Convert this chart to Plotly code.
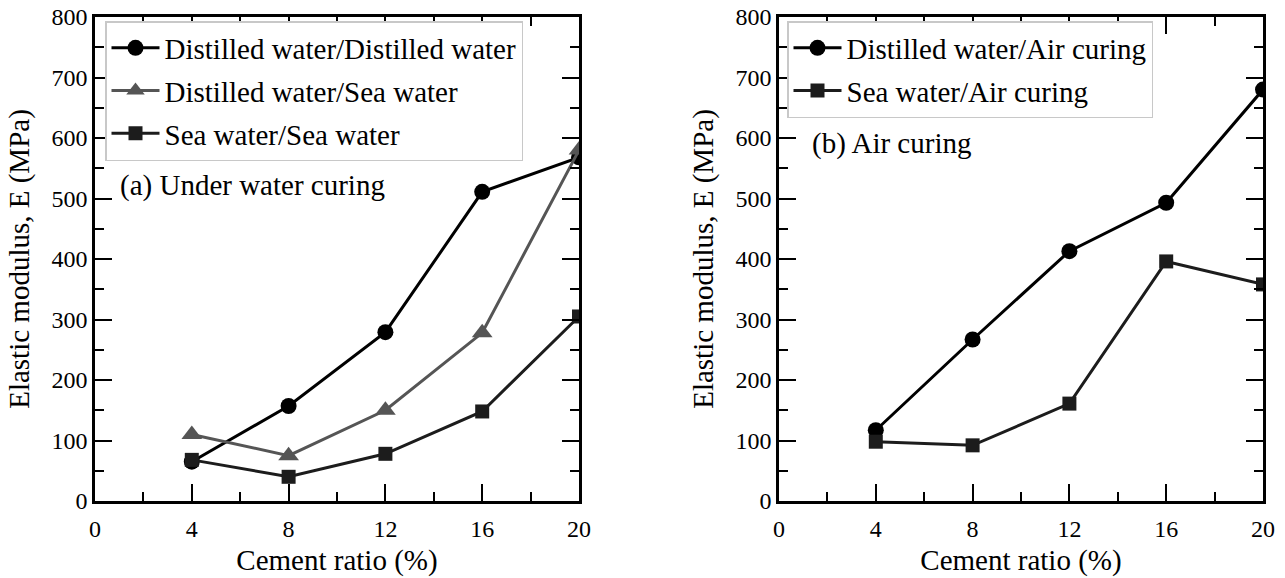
import plotly.graph_objects as go

cement = [4, 8, 12, 16, 20]

# (a) Under water curing
dw_dw = [65, 157, 279, 511, 568]
dw_sw = [110, 75, 150, 278, 580]
sw_sw = [68, 40, 78, 148, 305]

# (b) Air curing
dw_air = [117, 267, 413, 493, 680]
sw_air = [98, 92, 161, 396, 358]

x_ticks = [0, 4, 8, 12, 16, 20]
y_ticks = [0, 100, 200, 300, 400, 500, 600, 700, 800]

FONT = "Liberation Serif, Times New Roman, serif"
W, H = 1285, 578
TICK_SIZE = 24
TITLE_SIZE = 29
LEG_SIZE = 29

fig = go.Figure()

def add(x, y, name, color, symbol, size, xa, ya, legend, group):
    fig.add_trace(go.Scatter(
        x=x, y=y, name=name, mode="lines+markers",
        line=dict(color=color, width=3),
        marker=dict(symbol=symbol, size=size, color=color),
        xaxis=xa, yaxis=ya, legend=legend, legendgroup=group,
    ))

add(cement, dw_dw, "Distilled water/Distilled water", "#000000", "circle", 16, "x", "y", "legend", "a1")
add(cement, dw_sw, "Distilled water/Sea water", "#555555", "triangle-up", 18, "x", "y", "legend", "a2")
add(cement, sw_sw, "Sea water/Sea water", "#1c1c1c", "square", 14, "x", "y", "legend", "a3")
add(cement, dw_air, "Distilled water/Air curing", "#000000", "circle", 16, "x2", "y2", "legend2", "b1")
add(cement, sw_air, "Sea water/Air curing", "#1c1c1c", "square", 14, "x2", "y2", "legend2", "b2")

def xaxis(domain, anchor):
    return dict(domain=domain, anchor=anchor, range=[0, 20], tickvals=x_ticks, automargin=False,
                ticks="inside", ticklen=17, tickwidth=2, tickcolor="black", ticklabelstandoff=4,
                showline=True, linecolor="black", linewidth=2.5, mirror="ticks",
                showgrid=False, zeroline=False,
                minor=dict(dtick=2, tick0=0, ticks="inside", ticklen=9, tickwidth=2, tickcolor="black", showgrid=False),
                tickfont=dict(family=FONT, size=TICK_SIZE, color="black"),
                title=dict(text="Cement ratio (%)", font=dict(family=FONT, size=TITLE_SIZE, color="black"), standoff=10))

def yaxis(domain, anchor):
    return dict(domain=domain, anchor=anchor, range=[0, 800], tickvals=y_ticks, automargin=False,
                ticks="inside", ticklen=17, tickwidth=2, tickcolor="black",
                showline=True, linecolor="black", linewidth=2.5, mirror="ticks",
                showgrid=False, zeroline=False,
                minor=dict(dtick=50, tick0=0, ticks="inside", ticklen=9, tickwidth=2, tickcolor="black", showgrid=False),
                tickfont=dict(family=FONT, size=TICK_SIZE, color="black"),
                title=dict(text="Elastic modulus, E (MPa)", font=dict(family=FONT, size=TITLE_SIZE, color="black"), standoff=14))

ydom = [1 - 501 / H, 1 - 17 / H]
legend_common = dict(bgcolor="white", bordercolor="#c8c8c8", borderwidth=1.5,
                     font=dict(family=FONT, size=LEG_SIZE, color="black"),
                     xanchor="left", yanchor="top", tracegroupgap=2, itemwidth=48)

fig.update_layout(
    width=W, height=H,
    margin=dict(l=0, r=0, t=0, b=0, autoexpand=False),
    paper_bgcolor="white", plot_bgcolor="white",
    showlegend=True,
    xaxis=xaxis([95 / W, 579 / W], "y"),
    yaxis=yaxis(ydom, "x"),
    xaxis2=xaxis([779 / W, 1263 / W], "y2"),
    yaxis2=yaxis(ydom, "x2"),
    legend=dict(x=105 / W, y=1 - 21 / H, **legend_common),
    legend2=dict(x=787 / W, y=1 - 21 / H, **legend_common),
    annotations=[
        dict(text="(a) Under water curing", xref="paper", yref="paper",
             x=118 / W, y=1 - 185 / H, xanchor="left", yanchor="middle", showarrow=False,
             font=dict(family=FONT, size=LEG_SIZE, color="black")),
        dict(text="(b) Air curing", xref="paper", yref="paper",
             x=810 / W, y=1 - 143 / H, xanchor="left", yanchor="middle", showarrow=False,
             font=dict(family=FONT, size=LEG_SIZE, color="black")),
    ],
)

fig.write_html("out.html")
